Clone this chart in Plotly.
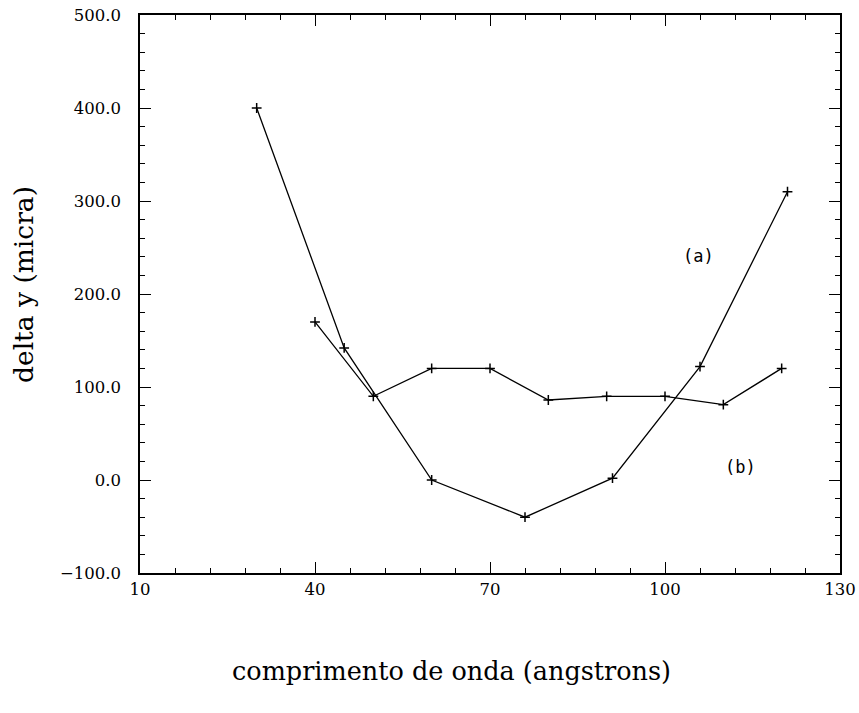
import plotly.graph_objects as go

# Series (a)
xa = [30, 45, 60, 76, 91, 106, 121]
ya = [400, 142, 0, -40, 2, 122, 310]
# Series (b)
xb = [40, 50, 60, 70, 80, 90, 100, 110, 120]
yb = [170, 90, 120, 120, 86, 90, 90, 81, 120]

x_range = [10, 130]
y_range = [-100, 500]
x_title = "comprimento de onda (angstrons)"
y_title = "delta y (micra)"
labels = [("(a)", 105.8, 241), ("(b)", 112.9, 14)]

FONT = "DejaVu Serif"

fig = go.Figure()
for xs, ys in [(xa, ya), (xb, yb)]:
    fig.add_trace(go.Scatter(
        x=xs, y=ys, mode="lines+markers",
        line=dict(color="black", width=1.3),
        marker=dict(symbol="cross-thin", size=7, color="black",
                    line=dict(color="black", width=1.5)),
        showlegend=False, hoverinfo="skip"))

for txt, lx, ly in labels:
    fig.add_annotation(x=lx, y=ly, text=txt, showarrow=False,
                       font=dict(family="DejaVu Sans Mono", size=17, color="black"))

fig.add_annotation(xref="paper", yref="paper", x=(451 - 140) / 700, y=(573 - 671) / 558,
                   text=x_title, showarrow=False, xanchor="center", yanchor="middle",
                   font=dict(family=FONT, size=25.5, color="black"))
fig.add_annotation(xref="paper", yref="paper", x=(23 - 140) / 700, y=(573 - 285) / 558,
                   text=y_title, showarrow=False, textangle=-90, xanchor="center", yanchor="middle",
                   font=dict(family=FONT, size=26.5, color="black"))

axis_common = dict(showgrid=False, zeroline=False, showline=True, linecolor="black",
                   linewidth=1.5, mirror="allticks", ticks="inside", ticklen=11,
                   tickwidth=1.3, tickcolor="black", automargin=False,
                   tickfont=dict(family=FONT, size=16.5, color="black"))

fig.update_xaxes(range=x_range, tick0=10, dtick=30, tickformat="d", ticklabelstandoff=0,
                 minor=dict(dtick=6, tick0=10, ticks="inside", ticklen=5, tickcolor="black", tickwidth=1),
                 **axis_common)
fig.update_yaxes(range=y_range, tick0=0, dtick=100, tickformat=".1f", ticklabelstandoff=14,
                 minor=dict(dtick=20, ticks="inside", ticklen=5, tickcolor="black", tickwidth=1),
                 **axis_common)

fig.update_layout(width=859, height=713, plot_bgcolor="white", paper_bgcolor="white",
                  margin=dict(l=140, r=19, t=15, b=140), font=dict(family=FONT, color="black"))

fig.write_html("out.html")
